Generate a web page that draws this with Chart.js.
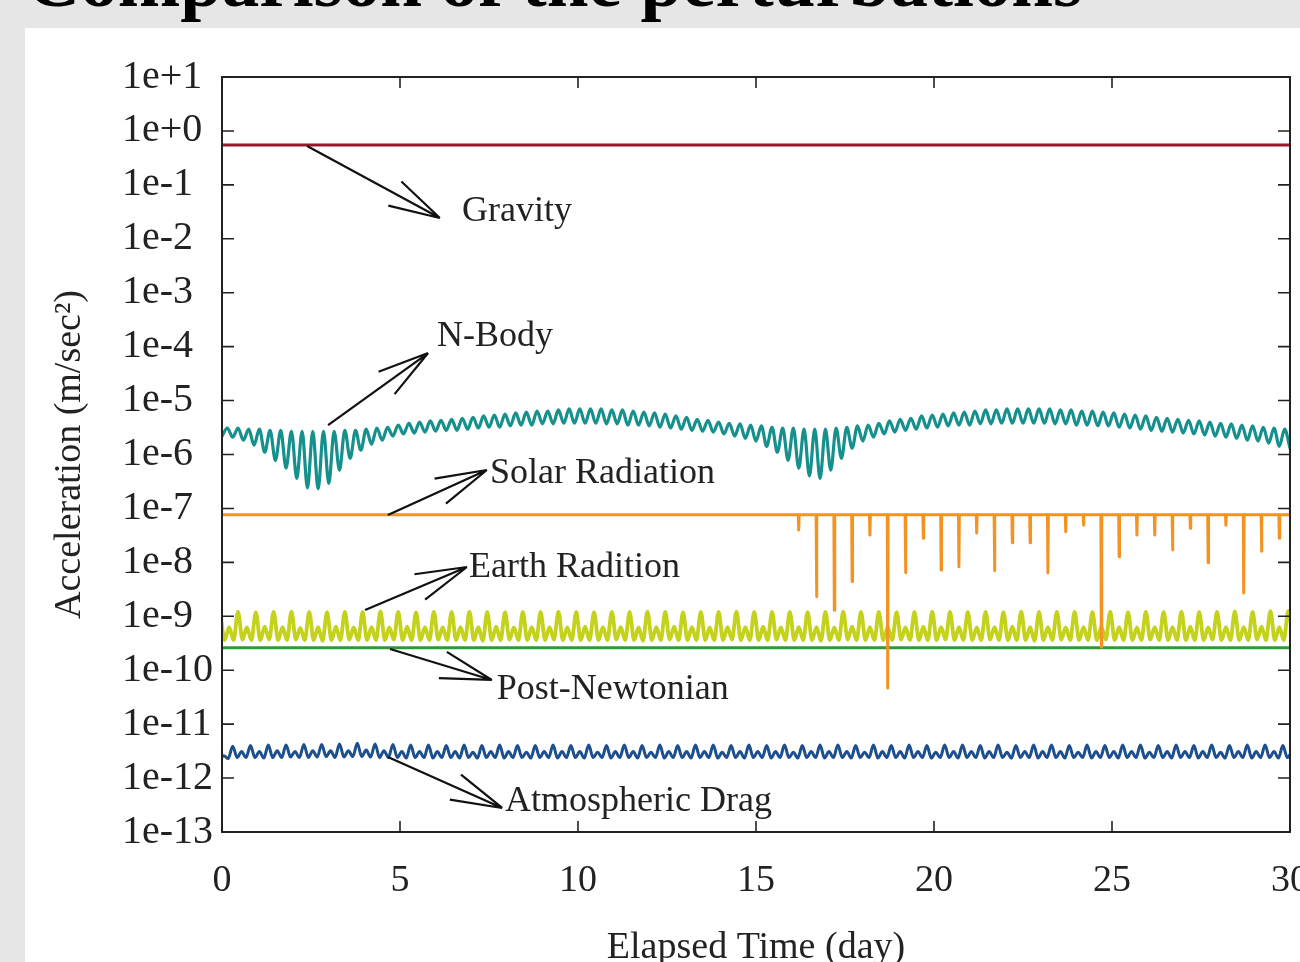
<!DOCTYPE html>
<html>
<head>
<meta charset="utf-8">
<title>Comparison of the perturbations</title>
<script src="https://cdn.jsdelivr.net/npm/chart.js"></script>
<style>
  html, body { margin: 0; padding: 0; width: 1300px; height: 962px; overflow: hidden; background: #e6e6e6; }
  #title { position: absolute; left: 26px; top: -57px; font: bold 75px 'Liberation Serif', serif; line-height: 1; color: #000; white-space: nowrap; }
  #panel { position: absolute; left: 25px; top: 28px; width: 1275px; height: 934px; background: #fff; }
  #myChart { position: absolute; left: 25px; top: 28px; }
</style>
</head>
<body>
<div id="title">Comparison of the perturbations</div>
<div id="panel"></div>
<canvas id="myChart" width="1275" height="943"></canvas>
<script>
// eixos
const xTickValues = [0, 5, 10, 15, 20, 25, 30];
const yTickValues = [1e1, 1e0, 1e-1, 1e-2, 1e-3, 1e-4, 1e-5, 1e-6, 1e-7, 1e-8, 1e-9, 1e-10, 1e-11, 1e-12, 1e-13];
const yTickLabels = ['1e+1', '1e+0', '1e-1', '1e-2', '1e-3', '1e-4', '1e-5', '1e-6', '1e-7', '1e-8', '1e-9', '1e-10', '1e-11', '1e-12', '1e-13'];

// Gravity e Post-Newtonian (constantes)
const gravityDays = [0, 30];
const gravityValues = [0.55, 0.55];
const postNewtonianDays = [0, 30];
const postNewtonianValues = [2.6e-10, 2.6e-10];

// Solar Radiation: linha base + quedas (eclipses)
const solarDays = [0, 30];
const solarValues = [7.6e-8, 7.6e-8];
const eclipseDays = [16.2, 16.7, 17.2, 17.7, 18.2, 18.7, 19.2, 19.7, 20.2, 20.7, 21.2, 21.7, 22.2, 22.7,
  23.2, 23.7, 24.2, 24.7, 25.2, 25.7, 26.2, 26.7, 27.2, 27.7, 28.2, 28.7, 29.2, 29.7];
const eclipseValues = [4.0e-8, 2.3e-9, 1.3e-9, 4.4e-9, 3.2e-8, 4.7e-11, 6.4e-9, 2.8e-8, 7.2e-9, 8.3e-9, 3.5e-8, 7.0e-9, 2.3e-8, 2.3e-8,
  6.4e-9, 3.7e-8, 4.9e-8, 2.7e-10, 1.27e-8, 3.2e-8, 3.2e-8, 1.7e-8, 4.3e-8, 9.8e-9, 4.9e-8, 2.7e-9, 1.6e-8, 2.8e-8];

// N-Body: amostras a cada 0.15 dia, começando no dia 0
const nbodyStart = 0, nbodyStep = 0.15;
const nbodyValues = [
  2.2e-6, 3.1e-6, 2.1e-6, 3.1e-6, 1.84e-6, 2.95e-6, 1.49e-6, 2.95e-6, 1.1e-6, 2.8e-6,
  7.8e-7, 2.8e-6, 5.6e-7, 2.7e-6, 3.6e-7, 2.7e-6, 2.4e-7, 2.7e-6, 2.3e-7, 2.7e-6,
  2.9e-7, 2.7e-6, 5.1e-7, 2.8e-6, 8.5e-7, 2.8e-6, 1.2e-6, 2.95e-6, 1.55e-6, 3.1e-6,
  1.84e-6, 3.2e-6, 2.2e-6, 3.5e-6, 2.4e-6, 3.8e-6, 2.5e-6, 4.0e-6, 2.6e-6, 4.2e-6,
  2.7e-6, 4.3e-6, 2.8e-6, 4.5e-6, 2.8e-6, 4.7e-6, 2.95e-6, 4.9e-6, 3.1e-6, 5.2e-6,
  3.2e-6, 5.4e-6, 3.2e-6, 5.6e-6, 3.4e-6, 5.9e-6, 3.5e-6, 6.1e-6, 3.5e-6, 6.4e-6,
  3.7e-6, 6.4e-6, 3.7e-6, 6.7e-6, 3.8e-6, 7.0e-6, 3.8e-6, 7.0e-6, 3.8e-6, 7.0e-6,
  3.8e-6, 7.0e-6, 3.7e-6, 6.7e-6, 3.7e-6, 6.7e-6, 3.5e-6, 6.4e-6, 3.5e-6, 6.1e-6,
  3.4e-6, 5.9e-6, 3.2e-6, 5.6e-6, 3.1e-6, 5.2e-6, 2.95e-6, 4.9e-6, 2.8e-6, 4.5e-6,
  2.7e-6, 4.3e-6, 2.6e-6, 4.0e-6, 2.4e-6, 3.8e-6, 2.2e-6, 3.7e-6, 2.0e-6, 3.5e-6,
  1.77e-6, 3.4e-6, 1.42e-6, 3.2e-6, 1.1e-6, 3.1e-6, 7.8e-7, 3.1e-6, 5.6e-7, 2.95e-6,
  4.0e-7, 2.95e-6, 3.6e-7, 2.95e-6, 5.1e-7, 3.1e-6, 8.5e-7, 3.2e-6, 1.31e-6, 3.4e-6,
  1.77e-6, 3.5e-6, 2.1e-6, 3.8e-6, 2.4e-6, 4.2e-6, 2.6e-6, 4.5e-6, 2.8e-6, 4.7e-6,
  2.95e-6, 5.2e-6, 3.1e-6, 5.4e-6, 3.2e-6, 5.6e-6, 3.4e-6, 5.9e-6, 3.5e-6, 6.1e-6,
  3.5e-6, 6.4e-6, 3.7e-6, 6.7e-6, 3.7e-6, 6.7e-6, 3.8e-6, 7.0e-6, 3.8e-6, 7.0e-6,
  3.8e-6, 7.0e-6, 3.8e-6, 7.0e-6, 3.8e-6, 7.0e-6, 3.7e-6, 6.7e-6, 3.7e-6, 6.7e-6,
  3.5e-6, 6.4e-6, 3.5e-6, 6.4e-6, 3.4e-6, 6.1e-6, 3.4e-6, 5.9e-6, 3.2e-6, 5.6e-6,
  3.1e-6, 5.4e-6, 2.95e-6, 5.2e-6, 2.8e-6, 4.9e-6, 2.7e-6, 4.7e-6, 2.6e-6, 4.5e-6,
  2.5e-6, 4.3e-6, 2.4e-6, 4.2e-6, 2.3e-6, 4.0e-6, 2.2e-6, 3.8e-6, 2.1e-6, 3.7e-6,
  2.0e-6, 3.5e-6, 1.84e-6, 3.4e-6, 1.77e-6, 3.2e-6, 1.62e-6, 3.1e-6, 1.42e-6, 2.95e-6,
  1.31e-6
];

// Earth Radition: amostras a cada 0.125 dia, começando em -0.05
const earthStart = -0.05, earthStep = 0.125;
const earthValues = [
  1.2e-9, 3.6e-10, 6.3e-10, 3.6e-10, 1.22e-9, 3.7e-10, 6.2e-10, 3.6e-10,
  1.18e-9, 3.6e-10, 6.4e-10, 3.7e-10, 1.2e-9, 3.6e-10, 6.3e-10, 3.6e-10,
  1.22e-9, 3.7e-10, 6.1e-10, 3.6e-10, 1.2e-9, 3.6e-10, 6.3e-10, 3.5e-10,
  1.19e-9, 3.6e-10, 6.4e-10, 3.6e-10, 1.21e-9, 3.7e-10, 6.2e-10, 3.6e-10,
  1.2e-9, 3.6e-10, 6.3e-10, 3.6e-10, 1.23e-9, 3.6e-10, 6.2e-10, 3.7e-10,
  1.2e-9, 3.6e-10, 6.4e-10, 3.6e-10, 1.18e-9, 3.6e-10, 6.3e-10, 3.6e-10,
  1.21e-9, 3.7e-10, 6.2e-10, 3.6e-10, 1.2e-9, 3.6e-10, 6.3e-10, 3.6e-10,
  1.22e-9, 3.6e-10, 6.3e-10, 3.5e-10, 1.2e-9, 3.6e-10, 6.4e-10, 3.6e-10,
  1.19e-9, 3.7e-10, 6.2e-10, 3.6e-10, 1.21e-9, 3.6e-10, 6.3e-10, 3.6e-10,
  1.2e-9, 3.6e-10, 6.3e-10, 3.7e-10, 1.22e-9, 3.6e-10, 6.2e-10, 3.6e-10,
  1.2e-9, 3.6e-10, 6.4e-10, 3.6e-10, 1.19e-9, 3.6e-10, 6.3e-10, 3.6e-10,
  1.21e-9, 3.7e-10, 6.3e-10, 3.6e-10, 1.2e-9, 3.6e-10, 6.2e-10, 3.5e-10,
  1.22e-9, 3.6e-10, 6.3e-10, 3.6e-10, 1.2e-9, 3.7e-10, 6.4e-10, 3.6e-10,
  1.18e-9, 3.6e-10, 6.3e-10, 3.6e-10, 1.21e-9, 3.6e-10, 6.2e-10, 3.6e-10,
  1.2e-9, 3.6e-10, 6.3e-10, 3.7e-10, 1.22e-9, 3.6e-10, 6.3e-10, 3.6e-10,
  1.2e-9, 3.6e-10, 6.4e-10, 3.6e-10, 1.2e-9, 3.7e-10, 6.2e-10, 3.6e-10,
  1.21e-9, 3.6e-10, 6.3e-10, 3.6e-10, 1.19e-9, 3.6e-10, 6.3e-10, 3.5e-10,
  1.2e-9, 3.6e-10, 6.2e-10, 3.6e-10, 1.22e-9, 3.7e-10, 6.4e-10, 3.6e-10,
  1.2e-9, 3.6e-10, 6.3e-10, 3.6e-10, 1.21e-9, 3.6e-10, 6.3e-10, 3.6e-10,
  1.19e-9, 3.7e-10, 6.2e-10, 3.6e-10, 1.2e-9, 3.6e-10, 6.4e-10, 3.6e-10,
  1.22e-9, 3.6e-10, 6.3e-10, 3.7e-10, 1.2e-9, 3.6e-10, 6.3e-10, 3.6e-10,
  1.2e-9, 3.6e-10, 6.2e-10, 3.6e-10, 1.21e-9, 3.7e-10, 6.3e-10, 3.6e-10,
  1.19e-9, 3.6e-10, 6.4e-10, 3.6e-10, 1.22e-9, 3.6e-10, 6.3e-10, 3.5e-10,
  1.2e-9, 3.6e-10, 6.3e-10, 3.6e-10, 1.2e-9, 3.7e-10, 6.2e-10, 3.6e-10,
  1.21e-9, 3.6e-10, 6.3e-10, 3.6e-10, 1.2e-9, 3.6e-10, 6.4e-10, 3.7e-10,
  1.22e-9, 3.6e-10, 6.3e-10, 3.6e-10, 1.19e-9, 3.6e-10, 6.2e-10, 3.6e-10,
  1.2e-9, 3.7e-10, 6.3e-10, 3.6e-10, 1.21e-9, 3.6e-10, 6.3e-10, 3.6e-10,
  1.22e-9, 3.6e-10, 6.4e-10, 3.6e-10, 1.2e-9, 3.6e-10, 6.2e-10, 3.7e-10,
  1.2e-9, 3.6e-10, 6.3e-10, 3.6e-10, 1.23e-9, 3.6e-10, 6.3e-10, 3.6e-10,
  1.21e-9, 3.7e-10, 6.4e-10, 3.6e-10, 1.25e-9, 3.6e-10, 6.3e-10, 3.6e-10,
  1.26e-9, 3.6e-10
];

// Atmospheric Drag: amostras a cada 0.125 dia, começando em -0.075
const dragStart = -0.075, dragStep = 0.125;
const dragValues = [
  2.0e-12, 2.6e-12, 2.3e-12, 3.9e-12, 2.4e-12, 3.1e-12, 2.4e-12, 4.0e-12,
  2.4e-12, 3.1e-12, 2.35e-12, 4.1e-12, 2.4e-12, 3.2e-12, 2.4e-12, 4.1e-12,
  2.45e-12, 3.1e-12, 2.4e-12, 4.2e-12, 2.4e-12, 3.2e-12, 2.45e-12, 4.2e-12,
  2.5e-12, 3.2e-12, 2.4e-12, 4.3e-12, 2.45e-12, 3.2e-12, 2.5e-12, 4.4e-12,
  2.5e-12, 3.3e-12, 2.45e-12, 4.3e-12, 2.4e-12, 3.2e-12, 2.4e-12, 4.2e-12,
  2.4e-12, 3.1e-12, 2.35e-12, 4.1e-12, 2.4e-12, 3.1e-12, 2.4e-12, 4.1e-12,
  2.35e-12, 3.1e-12, 2.4e-12, 4.0e-12, 2.4e-12, 3.1e-12, 2.35e-12, 4.1e-12,
  2.4e-12, 3.0e-12, 2.35e-12, 4.0e-12, 2.4e-12, 3.1e-12, 2.4e-12, 4.1e-12,
  2.35e-12, 3.1e-12, 2.4e-12, 4.0e-12, 2.4e-12, 3.0e-12, 2.35e-12, 4.0e-12,
  2.4e-12, 3.1e-12, 2.4e-12, 4.1e-12, 2.35e-12, 3.1e-12, 2.4e-12, 4.0e-12,
  2.4e-12, 3.1e-12, 2.35e-12, 4.1e-12, 2.4e-12, 3.0e-12, 2.4e-12, 4.0e-12,
  2.35e-12, 3.1e-12, 2.4e-12, 4.1e-12, 2.4e-12, 3.1e-12, 2.35e-12, 4.0e-12,
  2.4e-12, 3.0e-12, 2.4e-12, 4.1e-12, 2.35e-12, 3.1e-12, 2.4e-12, 4.0e-12,
  2.4e-12, 3.1e-12, 2.35e-12, 4.1e-12, 2.4e-12, 3.1e-12, 2.4e-12, 4.1e-12,
  2.35e-12, 3.0e-12, 2.4e-12, 4.0e-12, 2.4e-12, 3.1e-12, 2.35e-12, 4.1e-12,
  2.4e-12, 3.1e-12, 2.4e-12, 4.0e-12, 2.35e-12, 3.1e-12, 2.4e-12, 4.1e-12,
  2.4e-12, 3.0e-12, 2.35e-12, 4.0e-12, 2.4e-12, 3.1e-12, 2.4e-12, 4.1e-12,
  2.35e-12, 3.1e-12, 2.4e-12, 4.1e-12, 2.4e-12, 3.1e-12, 2.35e-12, 4.0e-12,
  2.4e-12, 3.0e-12, 2.4e-12, 4.1e-12, 2.35e-12, 3.1e-12, 2.4e-12, 4.0e-12,
  2.4e-12, 3.1e-12, 2.35e-12, 4.1e-12, 2.4e-12, 3.1e-12, 2.4e-12, 4.0e-12,
  2.35e-12, 3.0e-12, 2.4e-12, 4.1e-12, 2.4e-12, 3.1e-12, 2.35e-12, 4.1e-12,
  2.4e-12, 3.1e-12, 2.4e-12, 4.0e-12, 2.35e-12, 3.1e-12, 2.4e-12, 4.1e-12,
  2.4e-12, 3.0e-12, 2.35e-12, 4.0e-12, 2.4e-12, 3.1e-12, 2.4e-12, 4.1e-12,
  2.35e-12, 3.1e-12, 2.4e-12, 4.1e-12, 2.4e-12, 3.1e-12, 2.35e-12, 4.0e-12,
  2.4e-12, 3.0e-12, 2.4e-12, 4.1e-12, 2.35e-12, 3.1e-12, 2.4e-12, 4.0e-12,
  2.4e-12, 3.1e-12, 2.35e-12, 4.1e-12, 2.4e-12, 3.1e-12, 2.4e-12, 4.1e-12,
  2.35e-12, 3.0e-12, 2.4e-12, 4.0e-12, 2.4e-12, 3.1e-12, 2.35e-12, 4.1e-12,
  2.4e-12, 3.1e-12, 2.4e-12, 4.0e-12, 2.35e-12, 3.1e-12, 2.4e-12, 4.1e-12,
  2.4e-12, 3.0e-12, 2.35e-12, 4.0e-12, 2.4e-12, 3.1e-12, 2.4e-12, 4.1e-12,
  2.35e-12, 3.1e-12, 2.4e-12, 4.1e-12, 2.4e-12, 3.1e-12, 2.35e-12, 4.0e-12,
  2.4e-12, 3.1e-12
];

// rótulos com setas (posições em dias / m/s²)
const notes = [
  { text: 'Gravity', from: [2.39, 0.526], tip: [6.12, 0.0243], at: [6.74, 0.0314] },
  { text: 'N-Body', from: [2.98, 3.52e-6], tip: [5.79, 7.6e-5], at: [6.04, 1.57e-4] },
  { text: 'Solar Radiation', from: [4.66, 7.55e-8], tip: [7.44, 5.16e-7], at: [7.53, 4.35e-7] },
  { text: 'Earth Radition', from: [4.02, 1.31e-9], tip: [6.88, 8.2e-9], at: [6.94, 7.87e-9] },
  { text: 'Post-Newtonian', from: [4.72, 2.48e-10], tip: [7.58, 6.6e-11], at: [7.72, 4.3e-11] },
  { text: 'Atmospheric Drag', from: [4.66, 2.46e-12], tip: [7.87, 2.79e-13], at: [7.95, 3.6e-13] }
];

const FONT = "'Liberation Serif', 'Times New Roman', serif";

function pairs(days, values) {
  return days.map((d, i) => ({ x: d, y: values[i] }));
}
function sampled(start, step, values) {
  return values.map((v, i) => ({ x: start + i * step, y: v }));
}
function solarSeries() {
  const pts = [{ x: solarDays[0], y: solarValues[0] }];
  eclipseDays.forEach((d, i) => {
    pts.push({ x: d - 0.012, y: solarValues[0] });
    pts.push({ x: d, y: eclipseValues[i] });
    pts.push({ x: d + 0.012, y: solarValues[0] });
  });
  pts.push({ x: solarDays[1], y: solarValues[1] });
  return pts;
}

const framePlugin = {
  id: 'frame',
  afterDatasetsDraw(chart) {
    const { ctx, chartArea: a, scales: { x, y } } = chart;
    ctx.save();
    ctx.strokeStyle = '#222';
    ctx.lineWidth = 2;
    ctx.strokeRect(a.left, a.top, a.right - a.left, a.bottom - a.top);
    ctx.lineWidth = 1.6;
    ctx.beginPath();
    yTickValues.forEach(v => {
      const py = y.getPixelForValue(v);
      ctx.moveTo(a.left, py); ctx.lineTo(a.left + 12, py);
      ctx.moveTo(a.right, py); ctx.lineTo(a.right - 12, py);
    });
    xTickValues.forEach(v => {
      const px = x.getPixelForValue(v);
      ctx.moveTo(px, a.bottom); ctx.lineTo(px, a.bottom - 11);
      ctx.moveTo(px, a.top); ctx.lineTo(px, a.top + 11);
    });
    ctx.stroke();
    ctx.restore();
  }
};

const notesPlugin = {
  id: 'notes',
  afterDatasetsDraw(chart) {
    const { ctx, scales: { x, y } } = chart;
    ctx.save();
    ctx.strokeStyle = '#111';
    ctx.lineWidth = 2.2;
    ctx.fillStyle = '#222';
    ctx.font = '36px ' + FONT;
    ctx.textBaseline = 'middle';
    notes.forEach(n => {
      const x0 = x.getPixelForValue(n.from[0]), y0 = y.getPixelForValue(n.from[1]);
      const x1 = x.getPixelForValue(n.tip[0]), y1 = y.getPixelForValue(n.tip[1]);
      const ang = Math.atan2(y0 - y1, x0 - x1);
      const len = 53, spread = 15 * Math.PI / 180;
      ctx.beginPath();
      ctx.moveTo(x0, y0); ctx.lineTo(x1, y1);
      ctx.moveTo(x1, y1); ctx.lineTo(x1 + len * Math.cos(ang + spread), y1 + len * Math.sin(ang + spread));
      ctx.moveTo(x1, y1); ctx.lineTo(x1 + len * Math.cos(ang - spread), y1 + len * Math.sin(ang - spread));
      ctx.stroke();
      ctx.fillText(n.text, x.getPixelForValue(n.at[0]), y.getPixelForValue(n.at[1]));
    });
    ctx.restore();
  }
};

const line = (label, data, color, width, smooth) => ({
  label: label, data: data, borderColor: color, backgroundColor: color,
  borderWidth: width, pointRadius: 0, fill: false,
  tension: smooth ? 0.4 : 0,
  cubicInterpolationMode: smooth ? 'monotone' : 'default',
  borderJoinStyle: 'round', borderCapStyle: 'round'
});

const ctx = document.getElementById('myChart').getContext('2d');
new Chart(ctx, {
  type: 'line',
  data: {
    datasets: [
      line('Solar Radiation', solarSeries(), '#f39323', 3, false),
      line('Post-Newtonian', pairs(postNewtonianDays, postNewtonianValues), '#2f9a33', 3, false),
      line('Earth Radition', sampled(earthStart, earthStep, earthValues), '#c4d21c', 3.8, true),
      line('N-Body', sampled(nbodyStart, nbodyStep, nbodyValues), '#16908d', 3.2, true),
      line('Atmospheric Drag', sampled(dragStart, dragStep, dragValues), '#1c4f8c', 3, true),
      line('Gravity', pairs(gravityDays, gravityValues), '#97182c', 3, false)
    ]
  },
  options: {
    responsive: false,
    animation: false,
    layout: { padding: { left: 97, top: 49, right: 10, bottom: 0 } },
    plugins: { legend: { display: false }, tooltip: { enabled: false } },
    scales: {
      x: {
        type: 'linear', min: 0, max: 30,
        afterBuildTicks: s => { s.ticks = xTickValues.map(v => ({ value: v })); },
        ticks: { color: '#222', font: { family: FONT, size: 38 }, padding: 18, maxRotation: 0 },
        grid: { display: false }, border: { display: false },
        title: { display: true, text: 'Elapsed Time (day)', color: '#222', font: { family: FONT, size: 38 }, padding: 0 },
        afterFit: s => { s.height = 139; s.paddingLeft = 0; s.paddingRight = 0; }
      },
      y: {
        type: 'logarithmic', min: 1e-13, max: 10,
        afterBuildTicks: s => { s.ticks = yTickValues.map(v => ({ value: v })); },
        ticks: {
          autoSkip: false, crossAlign: 'far', padding: 8, color: '#222',
          font: { family: FONT, size: 40 },
          callback: v => yTickLabels[yTickValues.findIndex(t => Math.abs(Math.log10(t) - Math.log10(v)) < 1e-6)]
        },
        grid: { display: false }, border: { display: false },
        title: { display: true, text: 'Acceleration (m/sec²)', color: '#222', font: { family: FONT, size: 38 }, padding: { top: -74.8, bottom: 0 } },
        afterFit: s => { s.width = 100; s.paddingTop = 0; s.paddingBottom = 0; }
      }
    }
  },
  plugins: [framePlugin, notesPlugin]
});
</script>
</body>
</html>
